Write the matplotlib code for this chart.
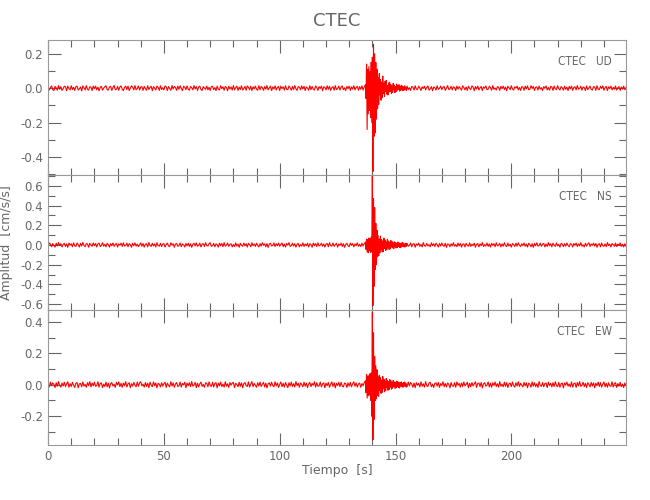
import numpy as np
import matplotlib
matplotlib.use('Agg')
import matplotlib.pyplot as plt
from matplotlib.ticker import MultipleLocator

# Acceleration values, in units of 0.001 cm/s/s.
# pre: noise from 0 s every 0.5 s, evt: 137 s every 0.25 s, post: noise from 155 s every 0.5 s
ud_pre = [
    7, -11, 4, 13, -9, -14, 10, 1, -12, 15, -6, 9, -13, -3, 11, 8, -15, 12, -2, -10,
    14, -8, 5, -13, 9, 12, -11, -4, 7, -16, 13, 2, -10, 15, -7, -11, 8, 6, -14, 12,
    -3, 12, -10, 6, -15, 4, 11, -12, 0, 9, 14, -9, -11, 7, 10, -13, 3, 16, -9, -6,
    10, -12, 7, 13, -5, -15, 5, 11, -8, 12, -14, -1, 13, 6, -10, 15, -9, -2, 13, -11,
    6, 9, -13, 10, -3, -12, 14, -8, 4, 11, -15, 9, 0, -11, 12, 5, -13, 14, -8, 3,
    -10, 13, 8, -14, 9, -2, -13, 15, -5, 10, 3, -13, 12, -7, 14, -1, -15, 11, 6, -9,
    13, -6, -12, 10, 2, -10, 15, -4, 9, -13, 7, 11, -8, -14, 9, 1, -7, 12, -10, 5,
    -13, 8, 11, -9, 3, -14, 12, -6, -10, 14, -3, 8, -12, 10, 4, -15, 11, -5, 7, -11,
    15, -10, 2, 12, -13, 6, -8, 14, -11, -2, 10, -12, 13, 5, -9, 11, -14, 8, -4, 12,
    -7, -12, 14, -9, 10, 3, -13, 9, -6, 15, -10, 1, 12, -14, 7, -5, 13, -11, 4, 10,
    -14, 12, -3, 8, -11, 14, -7, -9, 13, 2, -12, 10, -8, 15, -4, -13, 9, 6, -10, 13,
    -5, 11, -14, 7, 0, -12, 14, -9, 10, -6, -11, 13, 4, -13, 9, -2, 12, -15, 8, 5,
    -10, 14, -7, 11, -13, 3, 9, -12, 15, -8, -4, 12, -11, 6, 13, -9, 2, -14, 10, -3,
    12, -13, 8, -6, 14, -10, 3, 11, -12, 9, -7, 13, -11, 6,
]
ud_evt = [
    20, -60, 140, -240, 110, -150, 125, -130, 95, -170, 150, -200,
    180, -485, 255, -280, 200, -260, 150, -180, 110, -120,
    60, -95, 85, -40, 50, -70, 35, -55, 70, -30,
    25, -48, 40, -20, 45, -35, 15, -40, 30, -22,
    35, -18, 20, -32, 12, -25, 28, -10, 18, -26,
    10, -20, 24, -12, 16, -8, 20, -17, 9, -14,
    17, -6, 12, -15, 8, -11, 14, -9, 6, -13,
]
ud_post = [
    11, -8, 3, -13, 10, 6, -11, 14, -5, -9, 12, 1, -14, 8, -2, 11, -10, 5, 13, -12,
    -4, 9, -15, 7, 2, -11, 14, -7, -1, 12, -9, 5, 10, -13, 0, 15, -8, -5, 11, -10,
    8, 3, -14, 12, -6, 9, -2, -12, 14, 4, -10, 7, -13, 11, -1, -8, 13, 6, -15, 9,
    -5, 12, -11, 2, 10, -14, 7, 0, 13, -9, -6, 11, 4, -12, 15, -7, 1, -11, 9, 5,
    -13, 10, -3, 12, -8, 6, -15, 11, 2, -9, 14, -5, -11, 8, 0, 12, -10, 4, -13, 9,
    6, -12, 11, -4, 13, -9, -7, 14, -2, 10, -13, 5, 8, -11, 12, -6, 3, -14, 9, -1,
    13, -10, 4, -12, 10, 7, -13, 12, -5, -8, 14, -3, -11, 9, 2, -12, 11, -7, 6, -14,
    10, -4, 12, -13, 5, 8, -10, 15, -6, -2, 11, -12, 7, 3, -14, 13, -9, 1, 12, -8,
    -11, 9, 6, -13, 14, -5, -9, 11, -2, 13, -12, 4, 10, -14, 8, -3, 12, -10, 5, -7,
    13, -11, 2, 9, -13, 7, -6, 12, -9, 4,
]

ns_pre = [
    -16, 21, 8, -19, 14, -4, -22, 18, -10, 24, -7, 13, -20, 5, 17, -15, 11, -24, 19, -3,
    12, -18, 22, -9, -14, 20, 3, -21, 16, -11, 25, -6, -17, 14, 9, -23, 18, -2, -13, 21,
    -8, 15, -20, 11, 19, -16, -5, 23, -12, 7, -19, 17, 2, -22, 14, -9, 20, -14, 6, 16,
    -21, 10, -3, 18, -15, 22, -11, -6, 19, -18, 13, 4, -24, 16, -8, 21, -12, 9, -17, 3,
    20, -13, 15, -22, 7, 12, -19, 24, -4, -15, 18, -10, 11, -20, 23, -7, -12, 17, -16, 8,
    14, -21, 5, 19, -11, -17, 22, -3, 13, -23, 9, 16, -14, -6, 20, -18, 10, 2, -21, 15,
    -9, 18, -15, 12, -24, 6, 17, -10, 21, -13, -4, 19, -20, 8, 14, -16, 23, -5, -11, 13,
    22, -14, -7, 16, -19, 11, 3, -22, 18, -8, 15, -17, 24, -12, -2, 20, -15, 7, 12, -20,
    5, -16, 21, -11, 9, -23, 17, -4, -14, 19, -9, 13, -21, 16, 2, -18, 22, -7, 10, -15,
    18, -6, -20, 14, -12, 23, -3, 11, -19, 15, -24, 8, 17, -10, -5, 21, -16, 12, -8, 19,
    -13, 6, 20, -17, 10, -21, 15, -2, 24, -14, -9, 18, -11, 13, -22, 7, 16, -19, 4, -12,
    21, -15, 9, -8, 17, -20, 12, 5, -23, 19, -6, 14, -16, 22, -10, -3, 18, -13, 11, -21,
    8, 15, -18, 23, -7, -12, 20, -14, 3, 17, -22, 10, -5, 19, -15, 13, -24, 6, 16, -9,
    -17, 20, -4, 14, -19, 11, -8, 22, -13, 7, -16, 18, -10, 12,
]
ns_evt = [
    30, -45, 60, -70, 55, -80, 70, -60, 65, -75, 80, -70,
    750, -615, 470, -420, 380, -250, 220, -200, 150, -120,
    95, -110, 60, -80, 90, -45, 55, -70, 40, -65,
    70, -35, 50, -55, 30, -48, 58, -25, 40, -45,
    28, -40, 45, -22, 35, -30, 20, -38, 32, -18,
    25, -30, 18, -26, 30, -15, 22, -24, 14, -28,
    20, -16, 26, -12, 18, -22, 10, -19, 16, -14,
]
ns_post = [
    17, -12, -6, 21, -18, 9, 14, -23, 11, -4, 19, -15, 7, -20, 24, -8, -13, 16, -10, 3,
    -19, 22, -7, 13, -16, 18, 2, -21, 15, -11, 20, -5, -14, 17, -24, 10, 6, -18, 12, -9,
    23, -13, 4, -17, 19, -10, 15, -22, 8, 11, -20, 16, -3, -12, 21, -15, 9, -7, 18, -23,
    6, 14, -19, 12, -8, 24, -16, 3, -11, 20, -14, 10, -21, 17, -5, 13, -18, 22, -9, -2,
    16, -20, 11, -13, 23, -6, -17, 19, -10, 8, -22, 14, 5, -15, 18, -12, 21, -4, -16, 12,
    -7, 20, -14, 9, -21, 17, 3, -18, 13, -24, 15, -9, 22, -11, -6, 19, -13, 7, 16, -20,
    10, -15, 24, -8, 12, -19, 18, -3, -14, 21, -10, 5, -22, 16, 9, -17, 13, -12, 20, -6,
    -18, 14, 7, -21, 15, -5, 19, -16, 11, -9, 23, -13, 2, -20, 17, -11, 8, 22, -15, 10,
    -4, 18, -12, 16, -23, 6, 13, -19, 20, -8, -14, 11, -17, 24, -7, 9, -21, 15, 3, -13,
    19, -16, 10, -6, 21, -14, 8, -20, 12, -11,
]

ew_pre = [
    9, -14, 17, -6, 12, 3, -18, 13, -10, 20, -4, -15, 11, -8, 16, -12, 5, 19, -16, 7,
    -11, 15, -3, -17, 10, 14, -19, 6, 8, -13, 18, -9, 2, -16, 13, -5, 20, -14, 11, -7,
    16, -10, -5, 19, -15, 8, 12, -18, 4, -11, 17, -13, 10, -20, 6, 14, -8, 3, -17, 15,
    -2, 18, -12, 9, -16, 11, -6, 20, -14, 5, 13, -19, 7, -9, 15, -3, -13, 17, -10, 12,
    19, -7, 4, -15, 14, -11, 10, -18, 16, -2, -12, 18, -6, 11, -20, 9, 3, -14, 13, -9,
    7, 15, -17, 10, -4, -13, 19, -8, 12, -16, 5, 14, -11, -7, 17, -15, 8, -1, 16, -19,
    11, -6, 13, -12, 20, -9, -3, 15, -18, 10, -14, 6, 17, -10, 2, -16, 12, 9, -13, 18,
    -5, -11, 16, -14, 8, 13, -20, 11, -7, 17, -12, 4, -15, 19, -9, 6, -17, 14, -3, 10,
    15, -18, 9, 2, -13, 16, -10, 12, -19, 7, 14, -6, -11, 18, -15, 5, 20, -12, 8, -4,
    -16, 13, -8, 17, -11, 3, 15, -14, 10, -20, 6, 12, -9, 16, -5, -13, 19, -7, 11, -17,
    4, 18, -12, 9, -15, 14, -2, -19, 13, -8, 17, -11, 7, -14, 20, -6, 10, -16, 12, 1,
    -13, 16, -9, 11, -18, 6, 15, -12, 8, -4, 19, -15, 13, -10, -7, 17, -14, 5, 12, -19,
    10, -6, 14, -16, 3, 18, -11, 13, -20, 9, -5, 15, -12, 16, -8, -14, 11, 7, -17, 12,
    -9, 15, -13, 6, 19, -10, 12, -15, 4, 11, -16, 8, -7, 13,
]
ew_evt = [
    25, -50, 65, -85, 55, -70, 60, -65, 70, -100, 75, -200,
    460, -350, 330, -220, 180, -100, 120, -90, 95, -70,
    50, -75, 60, -35, 45, -55, 30, -48, 52, -25,
    35, -45, 22, -38, 40, -18, 28, -35, 20, -30,
    33, -15, 25, -28, 14, -22, 27, -12, 18, -24,
    16, -20, 22, -10, 19, -17, 12, -21, 15, -9,
    18, -13, 10, -16, 14, -8, 17, -12, 9, -15,
]
ew_post = [
    -12, 17, -8, 14, 5, -16, 11, -19, 13, -3, 9, -14, 18, -10, 6, -15, 20, -7, -11, 12,
    16, -13, 4, -18, 10, 12, -9, 15, -17, 7, -5, 19, -12, 8, -14, 11, 3, -20, 14, -6,
    -10, 13, -16, 18, -4, 9, -15, 12, -11, 17, -7, 2, 16, -19, 10, -13, 14, -8, 5, 19,
    -17, 8, 11, -12, 15, -20, 6, 13, -9, -3, 18, -14, 10, -16, 12, -5, 17, -11, 7, -15,
    20, -9, 3, -13, 16, -10, 14, -18, 5, 11, -12, 17, -6, -15, 13, -8, 19, -11, 9, -2,
    -14, 15, -7, 12, -19, 10, 4, -16, 18, -9, 13, -12, 6, -17, 20, -4, -10, 14, -13, 8,
    11, -18, 16, -5, 9, -14, 13, -11, 19, -6, -12, 15, -16, 7, 10, -20, 12, -3, 17, -9,
    5, -13, 18, -15, 8, 11, -17, 14, -7, 20, -10, -4, 16, -12, 9, -18, 13, 2, -14, 15,
    -8, 12, -19, 10, -6, 17, -11, 14, -15, 3, 18, -13, 9, -16, 12, -7, -10, 19, -14, 6,
    13, -17, 8, -9, 15, -12, 4, -18, 11, -5,
]

components = ['UD', 'NS', 'EW']
traces = [(ud_pre, ud_evt, ud_post), (ns_pre, ns_evt, ns_post), (ew_pre, ew_evt, ew_post)]
ylims = [(-0.505, 0.28), (-0.66, 0.71), (-0.383, 0.475)]

grey = '#666666'
plt.rcParams['font.family'] = 'DejaVu Sans'

fig, axes = plt.subplots(3, 1, sharex=True, figsize=(6.5, 5), dpi=100)
fig.subplots_adjust(left=0.074, right=0.963, top=0.92, bottom=0.11, hspace=0)

for ax, comp, (pre, evt, post), yl in zip(axes, components, traces, ylims):
    t = np.concatenate([np.arange(len(pre)) * 0.5,
                        137 + np.arange(len(evt)) * 0.25,
                        155 + np.arange(len(post)) * 0.5])
    y = np.array(pre + evt + post) / 1000.0
    ax.plot(t, y, color='red', lw=0.8)
    ax.set_xlim(0, 249.5)
    ax.set_ylim(*yl)
    ax.xaxis.set_major_locator(MultipleLocator(50))
    ax.xaxis.set_minor_locator(MultipleLocator(10))
    ax.yaxis.set_major_locator(MultipleLocator(0.2))
    ax.yaxis.set_minor_locator(MultipleLocator(0.1))
    ax.yaxis.set_major_formatter(plt.FormatStrFormatter('%.1f'))
    ax.tick_params(which='both', direction='in', top=True, right=True,
                   color=grey, labelcolor=grey, labelsize=8.5, width=0.8)
    ax.tick_params(which='major', length=9)
    ax.tick_params(which='minor', length=5)
    for s in ax.spines.values():
        s.set_color('#999999')
        s.set_linewidth(0.8)
    ax.text(0.976, 0.84, 'CTEC   ' + comp, transform=ax.transAxes, ha='right', va='center',
            color=grey, fontsize=8.5, fontstretch='condensed')

axes[0].set_title('CTEC', color=grey, fontsize=13, pad=10)
axes[1].set_ylabel('Amplitud  [cm/s/s]', color=grey, fontsize=9)
axes[1].yaxis.set_label_coords(-0.06, 0.5)
axes[2].set_xlabel('Tiempo  [s]', color=grey, fontsize=9, labelpad=1)

plt.savefig('out.png', dpi=100)
